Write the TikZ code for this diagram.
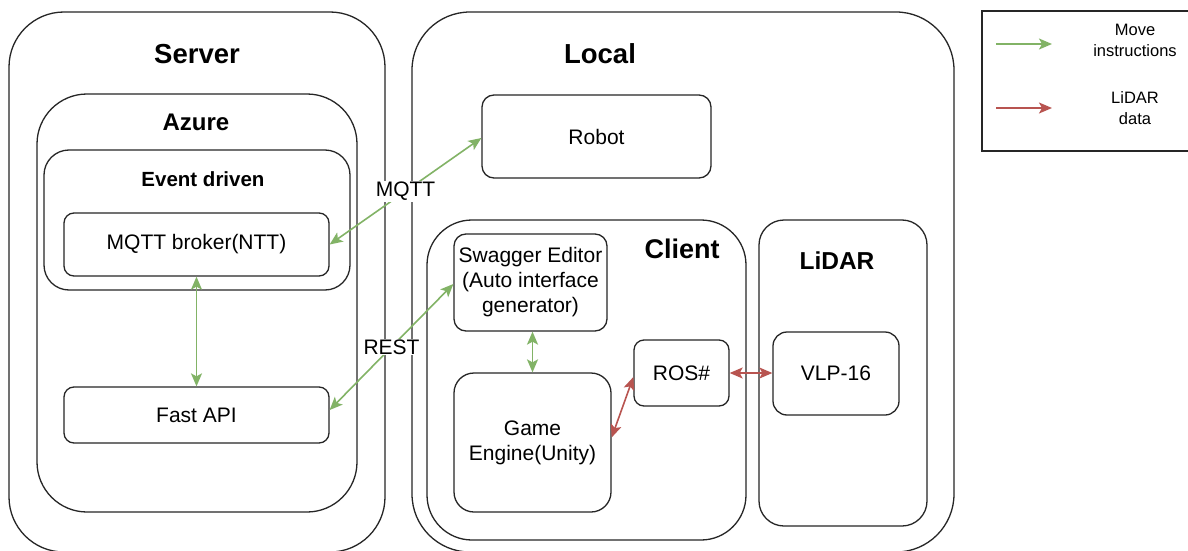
\documentclass[tikz,border=0pt]{standalone}
\usepackage{fontspec}
\setmainfont{Liberation Sans}
\usetikzlibrary{arrows.meta,calc}
\definecolor{mvgreen}{HTML}{82B366}
\definecolor{ldred}{HTML}{B85450}
\begin{document}
\begin{tikzpicture}[x=1pt,y=-1pt,
  >={Stealth[length=13pt,width=11pt,inset=3pt]},
  container/.style={draw=black!85,line width=1.3pt,rounded corners=#1},
  box/.style={draw=black!85,line width=1.3pt,rounded corners=#1,align=center,
    font=\fontsize{21}{25}\selectfont,inner sep=0pt},
  ttl/.style={font=\fontsize{#1}{#1}\selectfont\bfseries,inner sep=0pt},
  green arrow/.style={draw=mvgreen,line width=1.6pt,<->},
  red arrow/.style={draw=ldred,line width=1.6pt,<->},
  lbl/.style={fill=white,font=\fontsize{21}{25}\selectfont,inner sep=1pt},
  lgtext/.style={font=\fontsize{16.5}{21}\selectfont,align=center,inner sep=0pt}
]
\useasboundingbox (0,0) rectangle (1188,551);
\fill[white] (0,0) rectangle (1188,551);

% Server side
\draw[container=55pt] (9,12) rectangle (385,552);
\node[ttl=27.5] (server) at (197,54) {Server};
\draw[container=50pt] (37,94) rectangle (357,512);
\node[ttl=24] (azure) at (196,122) {Azure};
\draw[container=25pt] (44,150) rectangle (350,290);
\node[ttl=20.5] (event) at (203,179) {Event driven};
\node[box=10pt,minimum width=265pt,minimum height=63pt] (broker) at (196.5,244.5) {MQTT broker(NTT)};
\node[box=10pt,minimum width=265pt,minimum height=56pt] (fastapi) at (196.5,415) {Fast API};

% Local side
\draw[container=58pt] (412,12) rectangle (954,552);
\node[ttl=27.5] (local) at (600,54) {Local};
\node[box=12pt,minimum width=229pt,minimum height=83pt] (robot) at (596.5,136.5) {Robot};
\draw[container=45pt] (427,220) rectangle (746,540);
\node[ttl=27] (client) at (682,249) {Client};
\node[box=12pt,minimum width=153pt,minimum height=97pt] (swagger) at (530.5,282.5) {Swagger Editor\\(Auto interface\\generator)};
\node[box=20pt,minimum width=157pt,minimum height=139pt] (game) at (532.5,442.5) {Game\\Engine(Unity)};
\node[box=10pt,minimum width=95pt,minimum height=66pt] (ros) at (681.5,373) {ROS\#};
\draw[container=25pt] (759,220) rectangle (927,526);
\node[ttl=24.5] (lidar) at (837,261) {LiDAR};
\node[box=14pt,minimum width=126pt,minimum height=83pt] (vlp) at (836,373.5) {VLP-16};

% connectors
\draw[green arrow] (broker.south) -- (fastapi.north);
\draw[green arrow] (broker.east) -- node[lbl] {MQTT} ([yshift=-1.5pt]robot.west);
\draw[green arrow] ([yshift=5pt]fastapi.east) -- node[lbl] {REST} ([yshift=-1.5pt]swagger.west);
\draw[green arrow] (swagger.south -| game.north) -- (game.north);
\draw[red arrow] ([yshift=5pt]game.east) -- ([yshift=-4pt]ros.west);
\draw[red arrow] (ros.east) -- (ros.east -| vlp.west);

% legend
\draw[line width=1.3pt,draw=black!85] (982,11) rectangle (1194,151);
\coordinate (g1) at (996,44);
\coordinate (g2) at (1052,44);
\coordinate (r1) at (996,108);
\coordinate (r2) at (1052,108);
\draw[draw=mvgreen,line width=1.6pt,->] (g1) -- (g2);
\draw[draw=ldred,line width=1.6pt,->] (r1) -- (r2);
\node[lgtext] (lgmove) at (1135,40) {Move\\instructions};
\node[lgtext] (lglidar) at (1135,108) {LiDAR\\data};
\end{tikzpicture}
\end{document}
